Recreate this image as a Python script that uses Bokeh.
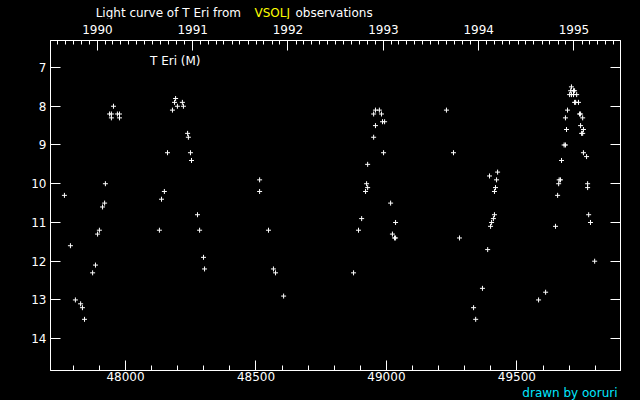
import datetime as dt
from bokeh.plotting import figure
from bokeh.layouts import column
from bokeh.models import (Range1d, LinearAxis, SingleIntervalTicker, FixedTicker,
                          BasicTickFormatter, Label, Title, ColumnDataSource,
                          GlobalInlineStyleSheet)
from bokeh.embed import file_html
from bokeh.resources import INLINE

# Observations: JD - 2400000 and visual magnitude
jd = [47766, 47789, 47808, 47828, 47835, 47843, 47874, 47885, 47893, 47900,
      47912, 47920, 47923, 47939, 47946, 47946, 47954, 47969, 47977, 47977,
      48130, 48138, 48149, 48161, 48180, 48188, 48192, 48199, 48218, 48222,
      48238, 48241, 48249, 48253, 48276, 48284, 48299, 48303,
      48514, 48514, 48548, 48567, 48575, 48606,
      48874, 48893, 48905, 48920, 48924, 48928, 48928, 48951, 48951, 48958,
      48958, 48973, 48981, 48985, 48993, 48989, 49016, 49023, 49031, 49035, 49035,
      49230, 49257, 49280, 49334, 49342, 49368, 49388, 49395, 49399, 49403,
      49410, 49414, 49414, 49418, 49422, 49426,
      49583, 49610, 49648, 49656, 49660, 49662, 49667, 49671, 49681, 49686,
      49686, 49690, 49694, 49702, 49706, 49709, 49709, 49717, 49717, 49721,
      49721, 49725, 49729, 49736, 49740, 49744, 49744, 49748, 49752, 49752,
      49755, 49755, 49767, 49771, 49771, 49775, 49782, 49798]
mag = [10.3, 11.6, 13.0, 13.1, 13.2, 13.5, 12.3, 12.1, 11.3, 11.2,
       10.6, 10.5, 10.0, 8.2, 8.2, 8.3, 8.0, 8.2, 8.2, 8.3,
       11.2, 10.4, 10.2, 9.2, 8.1, 7.9, 7.8, 8.0, 7.9, 8.0,
       8.7, 8.8, 9.2, 9.4, 10.8, 11.2, 11.9, 12.2,
       9.9, 10.2, 11.2, 12.2, 12.3, 12.9,
       12.3, 11.2, 10.9, 10.2, 10.0, 10.1, 9.5, 8.2, 8.8, 8.1,
       8.5, 8.1, 8.2, 8.4, 8.4, 9.2, 10.5, 11.3, 11.4, 11.4, 11.0,
       8.1, 9.2, 11.4, 13.2, 13.5, 12.7, 11.7, 9.8, 11.1, 11.0,
       10.9, 10.8, 10.2, 10.1, 9.9, 9.7,
       13.0, 12.8, 11.1, 10.3, 10.0, 9.9, 9.9, 9.4, 9.0, 9.0,
       8.3, 8.6, 8.1, 7.7, 7.6, 7.5, 7.7, 7.7, 7.6, 7.6,
       7.9, 7.9, 7.7, 7.9, 8.2, 8.2, 8.5, 8.7, 8.7, 8.3,
       8.6, 9.2, 9.3, 10.0, 10.1, 10.8, 11.0, 12.0]

years = [1990, 1991, 1992, 1993, 1994, 1995]
star_label = "T Eri (M)"
title_parts = ["Light curve of T Eri from", "VSOLJ", "observations"]
title_colors = ["white", "#ffff00", "white"]
credit = "drawn by ooruri"

X0, X1 = 47712.6, 49897.0
Y_BOTTOM, Y_TOP = 14.821, 6.303
FONT = "DejaVu Sans"
HEADER_H = 19


def jd_of(y, m, d=1):
    # JD - 2400000 = MJD + 0.5
    return (dt.date(y, m, d) - dt.date(1858, 11, 17)).days + 0.5


year_ticks = [jd_of(y, 1) for y in years]
month_ticks = [jd_of(y, m) for y in range(1989, 1997) for m in range(1, 13)
               if X0 <= jd_of(y, m) <= X1]

# ---- header strip with the multi-coloured title (pixel coordinates) ----
header = figure(width=640, height=HEADER_H, output_backend="svg", toolbar_location=None,
                x_range=Range1d(0, 640), y_range=Range1d(HEADER_H, 0),
                x_axis_type=None, y_axis_type=None,
                min_border=0, min_border_left=0, min_border_right=0,
                min_border_top=0, min_border_bottom=0,
                background_fill_color="black", border_fill_color="black",
                outline_line_color=None)
header.xgrid.grid_line_color = None
header.ygrid.grid_line_color = None
for txt, col, x0 in zip(title_parts, title_colors, [50.7, 229.0, 275.0]):
    header.add_layout(Label(x=x0, y=12.4, text=txt, text_color=col, text_font=FONT,
                            text_font_size="12px", text_baseline="alphabetic"))

# ---- main light-curve plot ----
p_main = figure(width=640, height=400 - HEADER_H, output_backend="svg", toolbar_location=None,
                x_range=Range1d(X0, X1), y_range=Range1d(Y_BOTTOM, Y_TOP),
                min_border_left=50, min_border_right=20, min_border_top=40 - HEADER_H,
                min_border_bottom=30,
                background_fill_color="black", border_fill_color="black",
                outline_line_color="white")
p_main.xgrid.grid_line_color = None
p_main.ygrid.grid_line_color = None


def style(ax, tin=10, mtin=5):
    ax.axis_line_color = "white"
    ax.major_tick_line_color = "white"
    ax.minor_tick_line_color = "white"
    ax.major_label_text_color = "white"
    ax.major_label_text_font = FONT
    ax.major_label_text_font_size = "12px"
    ax.major_tick_out = 0
    ax.minor_tick_out = 0
    ax.major_tick_in = tin
    ax.minor_tick_in = mtin


xa = p_main.xaxis[0]
xa.ticker = SingleIntervalTicker(interval=500, num_minor_ticks=5)
xa.formatter = BasicTickFormatter(use_scientific=False)
style(xa)
xa.major_label_standoff = 1

ya = p_main.yaxis[0]
ya.ticker = SingleIntervalTicker(interval=1, num_minor_ticks=0)
style(ya, tin=10, mtin=0)
ya.minor_tick_line_color = None
ya.major_label_standoff = 4

ra = LinearAxis(ticker=SingleIntervalTicker(interval=1, num_minor_ticks=0),
                major_label_overrides={i: "" for i in range(5, 17)})
style(ra, tin=10, mtin=0)
ra.minor_tick_line_color = None
ra.major_label_standoff = 0
p_main.add_layout(ra, "right")

ta = LinearAxis(ticker=FixedTicker(ticks=year_ticks, minor_ticks=month_ticks),
                major_label_overrides={t: str(y) for t, y in zip(year_ticks, years)})
style(ta, tin=10, mtin=4)
ta.major_label_standoff = 7
p_main.add_layout(ta, "above")

p_main.add_layout(Title(text=credit, align="right", text_color="#00e8ff", text_font=FONT,
                        text_font_size="12px", text_font_style="normal", standoff=0, offset=3),
                  "below")

src = ColumnDataSource(dict(jd=jd, mag=mag))
p_main.scatter("jd", "mag", source=src, marker="cross", size=5, line_color="white", line_width=1)

p_main.add_layout(Label(x=48094.0, y=6.842, text=star_label, text_color="white",
                        text_font=FONT, text_font_size="12px", text_baseline="alphabetic"))

p_main.stylesheets = [GlobalInlineStyleSheet(
    css="html, body { background-color: #000000; margin: 0; padding: 0; overflow: hidden; }")]

p = column(header, p_main, spacing=0)

open("out.html", "w").write(file_html(p, INLINE))
